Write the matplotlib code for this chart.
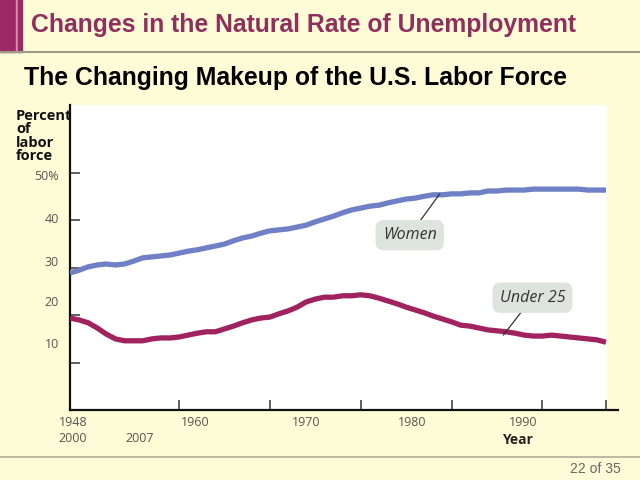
import matplotlib
matplotlib.use("Agg")
import matplotlib.pyplot as plt
from matplotlib.patches import Rectangle
from matplotlib.lines import Line2D

years = list(range(1948, 2008))
women = [28.9, 29.5, 30.2, 30.6, 30.8, 30.6, 30.8, 31.4, 32.1, 32.3,
         32.5, 32.7, 33.1, 33.5, 33.8, 34.2, 34.6, 35.0, 35.7, 36.3,
         36.7, 37.3, 37.8, 38.0, 38.2, 38.6, 39.0, 39.7, 40.3, 40.9,
         41.6, 42.2, 42.6, 43.0, 43.2, 43.7, 44.1, 44.5, 44.7, 45.1,
         45.4, 45.4, 45.6, 45.6, 45.8, 45.8, 46.2, 46.2, 46.4, 46.4,
         46.4, 46.6, 46.6, 46.6, 46.6, 46.6, 46.6, 46.4, 46.4, 46.4]
under25 = [19.4, 19.0, 18.4, 17.3, 16.0, 15.0, 14.6, 14.6, 14.6, 15.0,
           15.2, 15.2, 15.4, 15.8, 16.2, 16.5, 16.5, 17.1, 17.7, 18.4,
           19.0, 19.4, 19.6, 20.3, 20.9, 21.7, 22.8, 23.4, 23.8, 23.8,
           24.1, 24.1, 24.3, 24.1, 23.6, 23.0, 22.4, 21.7, 21.1, 20.5,
           19.8, 19.2, 18.6, 17.9, 17.7, 17.3, 16.9, 16.7, 16.5, 16.2,
           15.8, 15.6, 15.6, 15.8, 15.6, 15.4, 15.2, 15.0, 14.8, 14.3]
ytick_vals = [10, 20, 30, 40, 50]
ytick_labels = ["10", "20", "30", "40", "50%"]
xtick_vals = [1960, 1970, 1980, 1990, 2000, 2007]
xlabels_row1 = ["1948", "1960", "1970", "1980", "1990"]
xlabels_row2 = ["2000", "2007"]

BG = "#fefcd6"
W, H = 640, 480

def fx(x):
    return x / W

def fy(y):
    return 1 - y / H

fig = plt.figure(figsize=(6.4, 4.8), dpi=100, facecolor=BG)

# header decorations
fig.patches.append(Rectangle((0, fy(52)), fx(16), 52 / H, transform=fig.transFigure,
                             color="#9c2a66", zorder=0))
fig.patches.append(Rectangle((fx(16), fy(52)), fx(2), 52 / H, transform=fig.transFigure,
                             color="#d98ab3", zorder=0))
fig.patches.append(Rectangle((fx(18), fy(52)), fx(4), 52 / H, transform=fig.transFigure,
                             color="#9c2a66", zorder=0))
fig.lines.append(Line2D([0, 1], [fy(52), fy(52)], transform=fig.transFigure,
                        color="#9d9a86", lw=1.5))
fig.lines.append(Line2D([0, 1], [fy(457), fy(457)], transform=fig.transFigure,
                        color="#b0ad9a", lw=1.2))

fig.text(fx(31), fy(25), "Changes in the Natural Rate of Unemployment",
         family="Liberation Sans", weight="bold", fontsize=17.8, color="#8e2f5e",
         ha="left", va="center")
fig.text(fx(24), fy(78), "The Changing Makeup of the U.S. Labor Force",
         family="Liberation Sans", weight="bold", fontsize=17.8, color="black",
         ha="left", va="center")
fig.text(fx(621), fy(469), "22 of 35", family="Liberation Sans", fontsize=10,
         color="#666666", ha="right", va="center")

# axes: left 70, right 618, top 105, bottom 410
ax = fig.add_axes([fx(70), fy(410), fx(618 - 70), (410 - 105) / H])
ax.set_facecolor(BG)
px_per_year = 536 / 59.0
xmin = 1948
xmax = 2007 + 12 / px_per_year
ymax = (410 - 105) / 4.74
ax.set_xlim(xmin, xmax)
ax.set_ylim(0, ymax)
ax.add_patch(Rectangle((1948, 0), 2007.1 - 1948, ymax, facecolor="white",
                       edgecolor="none", zorder=0))

ax.plot(years, women, color="#6f80c6", lw=3.8, solid_capstyle="butt", zorder=3)
ax.plot(years, under25, color="#a0235f", lw=3.8, solid_capstyle="butt", zorder=3)

for s in ["top", "right"]:
    ax.spines[s].set_visible(False)
for s in ["left", "bottom"]:
    ax.spines[s].set_linewidth(1.6)
    ax.spines[s].set_color("#111111")

ax.set_yticks(ytick_vals)
ax.set_yticklabels([])
ax.set_xticks(xtick_vals)
ax.set_xticklabels([])
ax.tick_params(axis="y", direction="in", length=7, width=1.1, color="#333333")
ax.tick_params(axis="x", direction="in", length=7, width=1.1, color="#333333")

# annotations
box = dict(boxstyle="round,pad=0.45,rounding_size=0.5", facecolor="#dde3de",
           edgecolor="none")
ax.annotate("Women", xy=(1988.7, 45.6), xytext=(1985.4, 36.9),
            fontsize=11.5, style="italic", color="#333333", family="Open Sans",
            ha="center", va="center", bbox=box,
            arrowprops=dict(arrowstyle="-", color="#333333", lw=0.9,
                            shrinkA=0, shrinkB=0), zorder=4)
ax.annotate("Under 25", xy=(1995.7, 15.8), xytext=(1998.9, 23.7),
            fontsize=11.5, style="italic", color="#333333", family="Open Sans",
            ha="center", va="center", bbox=box,
            arrowprops=dict(arrowstyle="-", color="#333333", lw=0.9,
                            shrinkA=0, shrinkB=0), zorder=4)

# tick labels (positioned as in the reference slide)
lab_kw = dict(family="Open Sans", fontsize=9, color="#555555", va="center")
for lab, y in zip(ytick_labels, [345, 303, 262, 220, 176]):
    fig.text(fx(59), fy(y), lab, ha="right", **lab_kw)
for lab, x in zip(xlabels_row1, [73, 195, 306, 412, 523]):
    fig.text(fx(x), fy(423), lab, ha="center", **lab_kw)
for lab, x in zip(xlabels_row2, [73, 140]):
    fig.text(fx(x), fy(438), lab, ha="center", **lab_kw)
fig.text(fx(517), fy(440), "Year", family="Open Sans", weight="bold",
         fontsize=10, color="#222222", ha="center", va="center")

fig.text(fx(16), fy(109), "Percent\nof\nlabor\nforce", family="Open Sans",
         weight="bold", fontsize=10.5, color="#111111", ha="left", va="top",
         linespacing=0.95)

fig.savefig("out.png", dpi=100, facecolor=BG)
